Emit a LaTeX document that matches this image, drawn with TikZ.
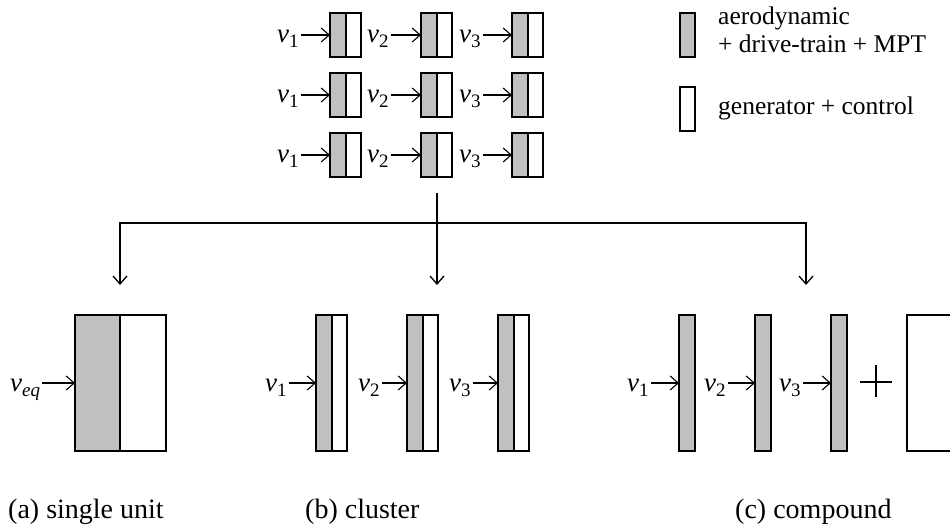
\documentclass[tikz,border=0pt]{standalone}
\usepackage{fontspec}
\setmainfont{Liberation Serif}
\newfontfamily\timesfont{Liberation Serif}
\usetikzlibrary{arrows.meta}
\definecolor{boxgray}{RGB}{192,192,192}
\newcommand{\vlabel}[1]{\textit{v}\raisebox{-5pt}{\fontsize{19}{19}\selectfont #1}}
\begin{document}
\begin{tikzpicture}[x=1pt,y=-1pt,
  gpart/.style={draw, fill=boxgray, line width=1.3pt, inner sep=0pt, outer sep=0pt, anchor=north west},
  wpart/.style={draw, fill=white, line width=1.3pt, inner sep=0pt, outer sep=0pt, anchor=north west},
  vlab/.style={font=\timesfont\fontsize{27}{27}\selectfont, inner sep=2pt, anchor=base west},
  legtext/.style={font=\timesfont\fontsize{25.5}{26}\selectfont, inner sep=0pt, anchor=base west},
  captext/.style={font=\timesfont\fontsize{28}{28}\selectfont, inner sep=0pt, anchor=base west},
  arr/.style={line width=1.1pt, -{Straight Barb[length=8pt,width=14pt]}},
  conn/.style={line width=1.3pt}
]
\useasboundingbox (0,0) rectangle (950,529);

% top grid
\foreach \r/\ty in {1/13,2/73,3/133} {
  \foreach \c/\bx/\lx in {1/330/275, 2/421/365, 3/512/457} {
    \node[gpart, minimum width=16pt, minimum height=44pt] (g\r\c) at (\bx,\ty) {};
    \node[wpart, minimum width=15pt, minimum height=44pt] (w\r\c) at (g\r\c.north east) {};
    \node[vlab] (v\r\c) at (\lx,\ty+30) {\vlabel{\c}};
    \draw[arr] (v\r\c.east |- g\r\c.west) -- (g\r\c.west);
  }
}

% legend
\node[gpart, minimum width=15pt, minimum height=44pt] (lg) at (680,13) {};
\node[wpart, minimum width=15pt, minimum height=44pt] (lw) at (680,87) {};
\node[legtext] (lt1) at (718,25) {aerodynamic};
\node[legtext] (lt2) at (718,53) {+ drive-train + MPT};
\node[legtext] (lt3) at (718,115) {generator + control};

% splitting connector
\coordinate (src) at (437,193);
\coordinate (junc) at (437,223);
\coordinate (ta) at (120,285);
\coordinate (tb) at (437,285);
\coordinate (tc) at (806,285);
\draw[conn] (src) -- (junc);
\draw[arr, line width=1.3pt] (junc) -- (tb);
\draw[arr, line width=1.3pt] (junc) -| (ta);
\draw[arr, line width=1.3pt] (junc) -| (tc);

% (a) single unit
\node[gpart, minimum width=45pt, minimum height=136pt] (ag) at (75,315) {};
\node[wpart, minimum width=46pt, minimum height=136pt] (aw) at (ag.north east) {};
\node[vlab] (av) at (8,391) {\textit{v}\raisebox{-5pt}{\fontsize{19}{19}\selectfont\textit{eq}}};
\draw[arr] (av.east |- ag.west) -- (ag.west);

% (b) cluster
\foreach \c/\bx/\lx in {1/316/263, 2/407/356, 3/498/447} {
  \node[gpart, minimum width=16pt, minimum height=136pt] (bg\c) at (\bx,315) {};
  \node[wpart, minimum width=15pt, minimum height=136pt] (bw\c) at (bg\c.north east) {};
  \node[vlab] (bv\c) at (\lx,391) {\vlabel{\c}};
  \draw[arr] (bv\c.east |- bg\c.west) -- (bg\c.west);
}

% (c) compound
\foreach \c/\bx/\lx in {1/679/625, 2/755/702, 3/831/777} {
  \node[gpart, minimum width=16pt, minimum height=136pt] (cg\c) at (\bx,315) {};
  \node[vlab] (cv\c) at (\lx,391) {\vlabel{\c}};
  \draw[arr] (cv\c.east |- cg\c.west) -- (cg\c.west);
}
\node[wpart, minimum width=60pt, minimum height=136pt] (cw) at (907,315) {};
\draw[conn] (860,382) -- (892,382);
\draw[conn] (876,365) -- (876,397);

% captions
\node[captext] (capa) at (8,518) {(a) single unit};
\node[captext] (capb) at (305,518) {(b) cluster};
\node[captext] (capc) at (735,518) {(c) compound};
\end{tikzpicture}
\end{document}
